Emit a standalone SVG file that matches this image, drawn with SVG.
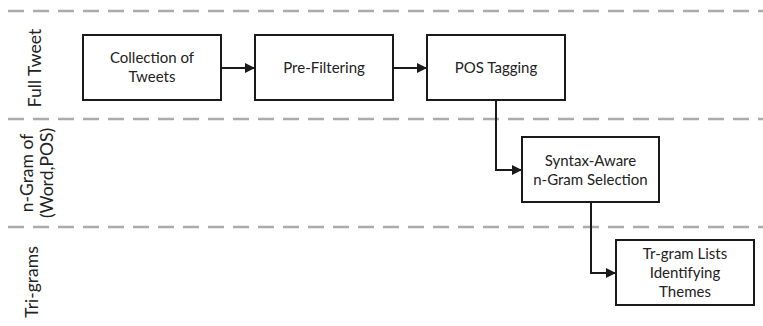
<svg xmlns="http://www.w3.org/2000/svg" width="763" height="326" viewBox="0 0 763 326">
  <style>
    .lane { stroke: #ababab; stroke-width: 2.5; stroke-dasharray: 16 9; fill: none; }
    .box { fill: #ffffff; stroke: #1a1a1a; stroke-width: 2; }
    .label { font-family: Lato, "Liberation Sans", sans-serif; font-size: 15px; fill: #222222; text-anchor: middle; }
    .lanelabel { font-family: Lato, "Liberation Sans", sans-serif; font-size: 17.5px; fill: #222222; text-anchor: middle; }
    .edge { stroke: #1a1a1a; stroke-width: 2; fill: none; marker-end: url(#arrow); }
  </style>
  <defs>
    <marker id="arrow" viewBox="0 0 10 10" refX="10" refY="5" markerWidth="10" markerHeight="10" markerUnits="userSpaceOnUse" orient="auto">
      <path d="M0,0 L10,5 L0,10 z" fill="#1a1a1a"/>
    </marker>
  </defs>

  <rect width="763" height="326" fill="#ffffff"/>

  <!-- swimlane separators -->
  <g id="lanes">
    <line class="lane" x1="8" y1="11" x2="763" y2="11"/>
    <line class="lane" x1="8" y1="119" x2="763" y2="119"/>
    <line class="lane" x1="8" y1="227" x2="763" y2="227"/>
  </g>

  <!-- swimlane titles -->
  <g id="lane-titles">
    <text class="lanelabel" transform="translate(41,68) rotate(-90)">Full Tweet</text>
    <text class="lanelabel" transform="translate(33,173) rotate(-90)">n-Gram of</text>
    <text class="lanelabel" transform="translate(53,173) rotate(-90)">(Word,POS)</text>
    <text class="lanelabel" transform="translate(38,282) rotate(-90)">Tri-grams</text>
  </g>

  <!-- connectors -->
  <g id="connectors">
    <path class="edge" d="M221,68 L255,68"/>
    <path class="edge" d="M393,68 L427,68"/>
    <path class="edge" d="M496,100 L496,170 L522,170"/>
    <path class="edge" d="M591,202 L591,273 L616,273"/>
  </g>

  <!-- process steps -->
  <g id="collection">
    <rect class="box" x="83" y="35" width="138" height="65"/>
    <text class="label" x="152" y="63">Collection of</text>
    <text class="label" x="152" y="82">Tweets</text>
  </g>
  <g id="prefiltering">
    <rect class="box" x="255" y="35" width="138" height="65"/>
    <text class="label" x="324" y="73">Pre-Filtering</text>
  </g>
  <g id="postagging">
    <rect class="box" x="427" y="35" width="138" height="65"/>
    <text class="label" x="496" y="73">POS Tagging</text>
  </g>
  <g id="ngram-selection">
    <rect class="box" x="522" y="137" width="137" height="65"/>
    <text class="label" x="590.5" y="166">Syntax-Aware</text>
    <text class="label" x="590.5" y="185">n-Gram Selection</text>
  </g>
  <g id="trigram-lists">
    <rect class="box" x="616" y="240" width="138" height="65"/>
    <text class="label" x="685" y="259">Tr-gram Lists</text>
    <text class="label" x="685" y="278">Identifying</text>
    <text class="label" x="685" y="297">Themes</text>
  </g>
</svg>
